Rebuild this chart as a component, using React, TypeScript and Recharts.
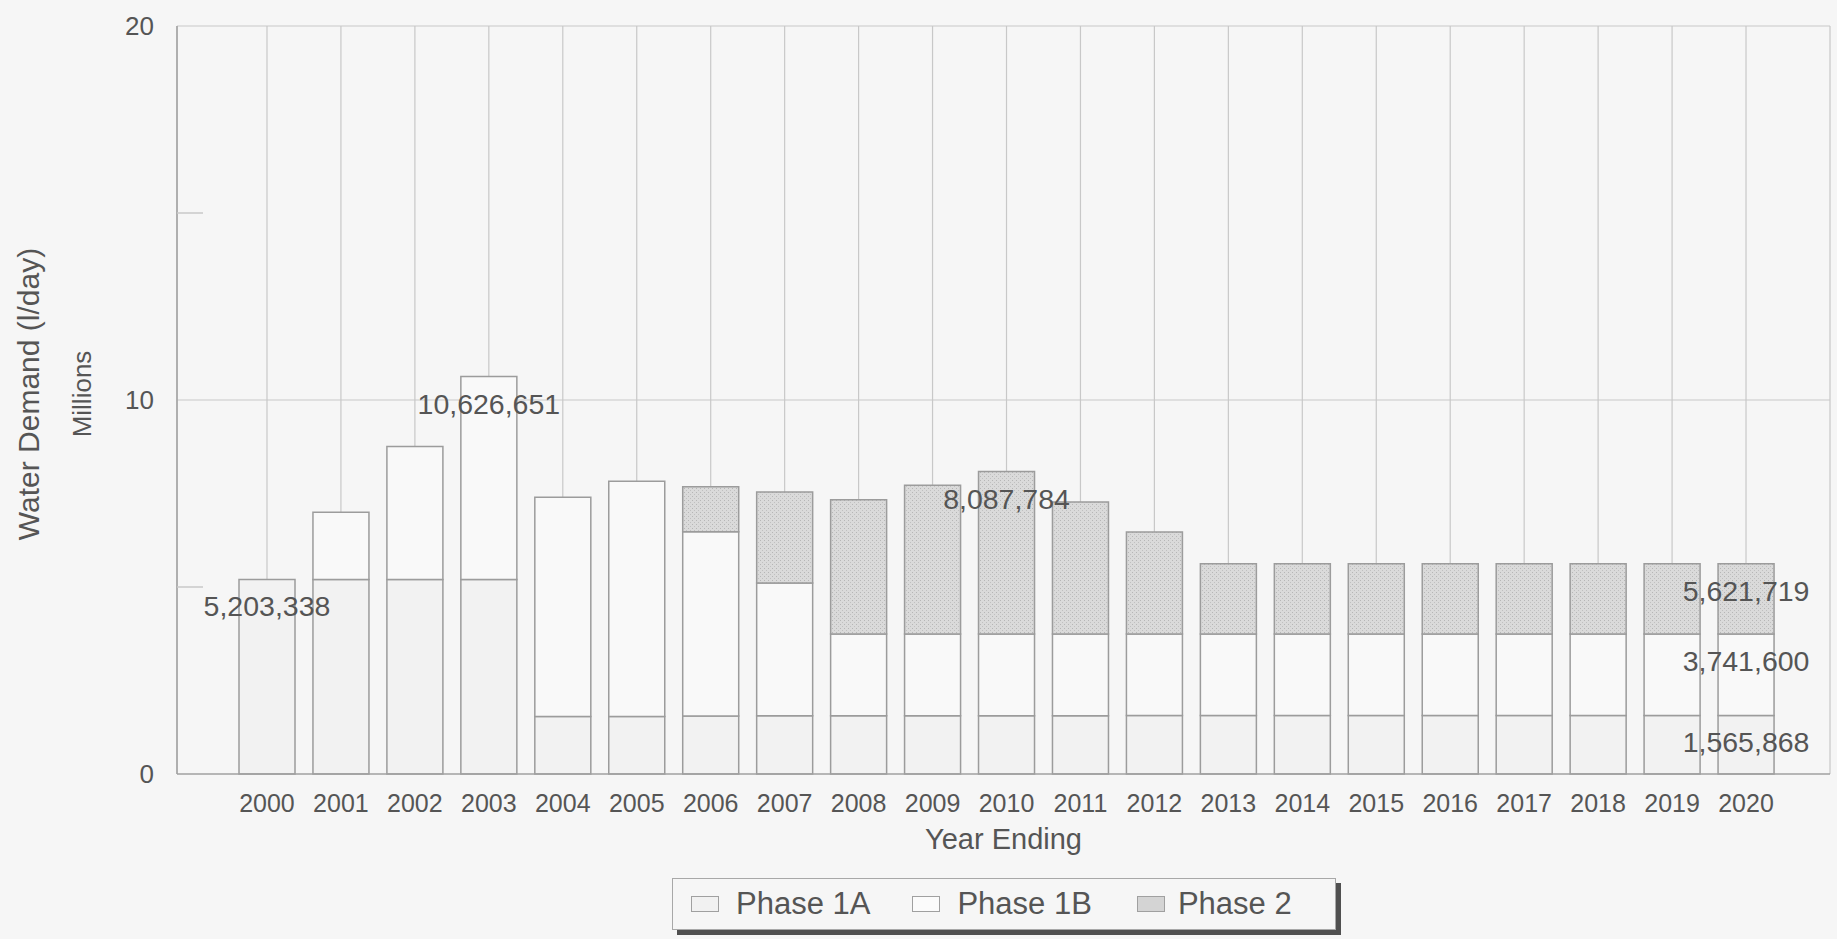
import React from 'react';
import {
  BarChart,
  Bar,
  XAxis,
  YAxis,
  CartesianGrid,
  Legend,
  Label,
  LabelList,
} from 'recharts';

// Water demand by phase, millions of l/day
const years = [
  '2000', '2001', '2002', '2003', '2004', '2005', '2006', '2007', '2008', '2009', '2010',
  '2011', '2012', '2013', '2014', '2015', '2016', '2017', '2018', '2019', '2020',
];
const phase1A = [
  5.203, 5.2, 5.2, 5.2, 1.54, 1.54, 1.55, 1.56, 1.56, 1.56, 1.56,
  1.56, 1.565, 1.566, 1.566, 1.566, 1.566, 1.566, 1.566, 1.566, 1.566,
];
const phase1B = [
  0, 1.8, 3.56, 5.427, 5.86, 6.29, 4.93, 3.55, 2.18, 2.18, 2.18,
  2.18, 2.177, 2.176, 2.176, 2.176, 2.176, 2.176, 2.176, 2.176, 2.176,
];
const phase2 = [
  0, 0, 0, 0, 0, 0, 1.2, 2.43, 3.59, 3.98, 4.348,
  3.53, 2.73, 1.88, 1.88, 1.88, 1.88, 1.88, 1.88, 1.88, 1.88,
];

// value labels, one slot per year ('' = no label)
const labels1A = ['5,203,338', '', '', '', '', '', '', '', '', '', '', '', '', '', '', '', '', '', '', '', '1,565,868'];
const labels1B = ['', '', '', '10,626,651', '', '', '', '', '', '', '', '', '', '', '', '', '', '', '', '', '3,741,600'];
const labels2 = ['', '', '', '', '', '', '', '', '', '', '8,087,784', '', '', '', '', '', '', '', '', '', '5,621,719'];

const yTicks = [0, 5, 10, 15, 20];

const data = years.map((year, i) => ({
  year,
  phase1A: phase1A[i],
  phase1B: phase1B[i],
  phase2: phase2[i],
  l1A: labels1A[i],
  l1B: labels1B[i],
  l2: labels2[i],
}));

const FONT = '"Liberation Sans", Arial, sans-serif';
const TEXT = '#555555';
const GRID = '#c8c8c8';
const AXIS = '#a0a0a0';
const BAR_STROKE = '#9c9c9c';
const BG = '#f6f6f6';

const ValueLabel = (props: any) => {
  const { x, y, width, value } = props;
  if (!value) return null;
  return (
    <text
      x={Number(x) + Number(width) / 2}
      y={Number(y) + 37}
      textAnchor="middle"
      fontSize={28.5}
      fontFamily={FONT}
      fill={TEXT}
    >
      {value}
    </text>
  );
};

const YTick = (props: any) => {
  const { x, y, payload } = props;
  const v = payload.value;
  if (v % 10 === 0) {
    return (
      <text x={x - 23} y={y} dy="0.36em" textAnchor="end" fontSize={26} fontFamily={FONT} fill={TEXT}>
        {v}
      </text>
    );
  }
  return <line x1={x} x2={x + 26} y1={y} y2={y} stroke={GRID} strokeWidth={1.5} />;
};

const YTitle = (props: any) => {
  const { viewBox } = props;
  const cy = viewBox.y + viewBox.height / 2 - 6;
  const tx = viewBox.x - 89;
  const mx = viewBox.x - 35;
  return (
    <g fontFamily={FONT} fill={TEXT}>
      <text x={tx} y={cy} transform={`rotate(-90 ${tx} ${cy})`} textAnchor="middle" dominantBaseline="central" fontSize={30}>
        Water Demand (l/day)
      </text>
      <text x={mx} y={cy} transform={`rotate(-90 ${mx} ${cy})`} textAnchor="middle" dominantBaseline="central" fontSize={26}>
        Millions
      </text>
    </g>
  );
};

const XTitle = (props: any) => {
  const { viewBox } = props;
  return (
    <text
      x={viewBox.x + viewBox.width / 2}
      y={viewBox.y + 75}
      textAnchor="middle"
      fontSize={29}
      fontFamily={FONT}
      fill={TEXT}
    >
      Year Ending
    </text>
  );
};

const legendItems = [
  { name: 'Phase 1A', swatch: '#f1f1f1' },
  { name: 'Phase 1B', swatch: '#fbfbfb' },
  { name: 'Phase 2', swatch: '#d4d4d4' },
];

const LegendBox = () => (
  <div
    style={{
      boxSizing: 'border-box',
      width: 664,
      height: 52,
      border: '1.5px solid #a8a8a8',
      background: BG,
      boxShadow: '5px 5px 0 #505050',
      display: 'flex',
      alignItems: 'center',
      paddingLeft: 18,
      fontFamily: FONT,
      fontSize: 31,
      color: TEXT,
      whiteSpace: 'nowrap',
    }}
  >
    {legendItems.map((item, i) => (
      <div
        key={item.name}
        style={{ display: 'flex', alignItems: 'center', flexShrink: 0, marginRight: i === 0 ? 42 : 45 }}
      >
        <span
          style={{
            display: 'inline-block',
            boxSizing: 'border-box',
            width: 28,
            height: 16,
            border: '1.5px solid #a0a0a0',
            background: item.swatch,
            marginRight: i === 2 ? 13 : 17,
          }}
        />
        <span>{item.name}</span>
      </div>
    ))}
  </div>
);

export default function App() {
  return (
    <div
      style={{
        position: 'absolute',
        left: 0,
        top: 0,
        width: 1837,
        height: 939,
        background: BG,
        fontFamily: FONT,
      }}
    >
      <BarChart
        width={1837}
        height={939}
        data={data}
        margin={{ top: 26, right: 7, bottom: 115, left: 117 }}
        barSize={56}
      >
        <defs>
          <pattern id="stipple" width="4" height="4" patternUnits="userSpaceOnUse">
            <rect width="4" height="4" fill="#dadada" />
            <rect x="0" y="0" width="1" height="1" fill="#b6b6b6" />
            <rect x="2" y="2" width="1" height="1" fill="#c0c0c0" />
          </pattern>
        </defs>
        <CartesianGrid stroke={GRID} strokeWidth={1.2} horizontalValues={[10, 20]} />
        <XAxis
          dataKey="year"
          padding={{ left: 53, right: 47 }}
          tickSize={0}
          tickMargin={20}
          interval={0}
          tick={{ fontSize: 25, fill: TEXT, fontFamily: FONT }}
          axisLine={{ stroke: AXIS, strokeWidth: 1.5 }}
          tickLine={false}
          height={50}
        >
          <Label content={XTitle} />
        </XAxis>
        <YAxis
          domain={[0, 20]}
          ticks={yTicks}
          interval={0}
          width={60}
          tickSize={0}
          tickMargin={0}
          tick={<YTick />}
          axisLine={{ stroke: AXIS, strokeWidth: 1.5 }}
          tickLine={false}
        >
          <Label content={YTitle} />
        </YAxis>
        <YAxis
          yAxisId="right"
          orientation="right"
          domain={[0, 20]}
          width={0}
          tick={false}
          tickLine={false}
          axisLine={{ stroke: AXIS, strokeWidth: 1.2 }}
        />
        <Legend
          layout="horizontal"
          verticalAlign="middle"
          align="center"
          content={<LegendBox />}
          wrapperStyle={{ left: 672, top: 878, width: 672, height: 58 }}
        />
        <Bar
          dataKey="phase1A"
          name="Phase 1A"
          stackId="a"
          fill="#f2f2f2"
          stroke={BAR_STROKE}
          strokeWidth={1.5}
          isAnimationActive={false}
        >
          <LabelList dataKey="l1A" content={<ValueLabel />} />
        </Bar>
        <Bar
          dataKey="phase1B"
          name="Phase 1B"
          stackId="a"
          fill="#f9f9f9"
          stroke={BAR_STROKE}
          strokeWidth={1.5}
          isAnimationActive={false}
        >
          <LabelList dataKey="l1B" content={<ValueLabel />} />
        </Bar>
        <Bar
          dataKey="phase2"
          name="Phase 2"
          stackId="a"
          fill="url(#stipple)"
          stroke={BAR_STROKE}
          strokeWidth={1.5}
          isAnimationActive={false}
        >
          <LabelList dataKey="l2" content={<ValueLabel />} />
        </Bar>
      </BarChart>
    </div>
  );
}
